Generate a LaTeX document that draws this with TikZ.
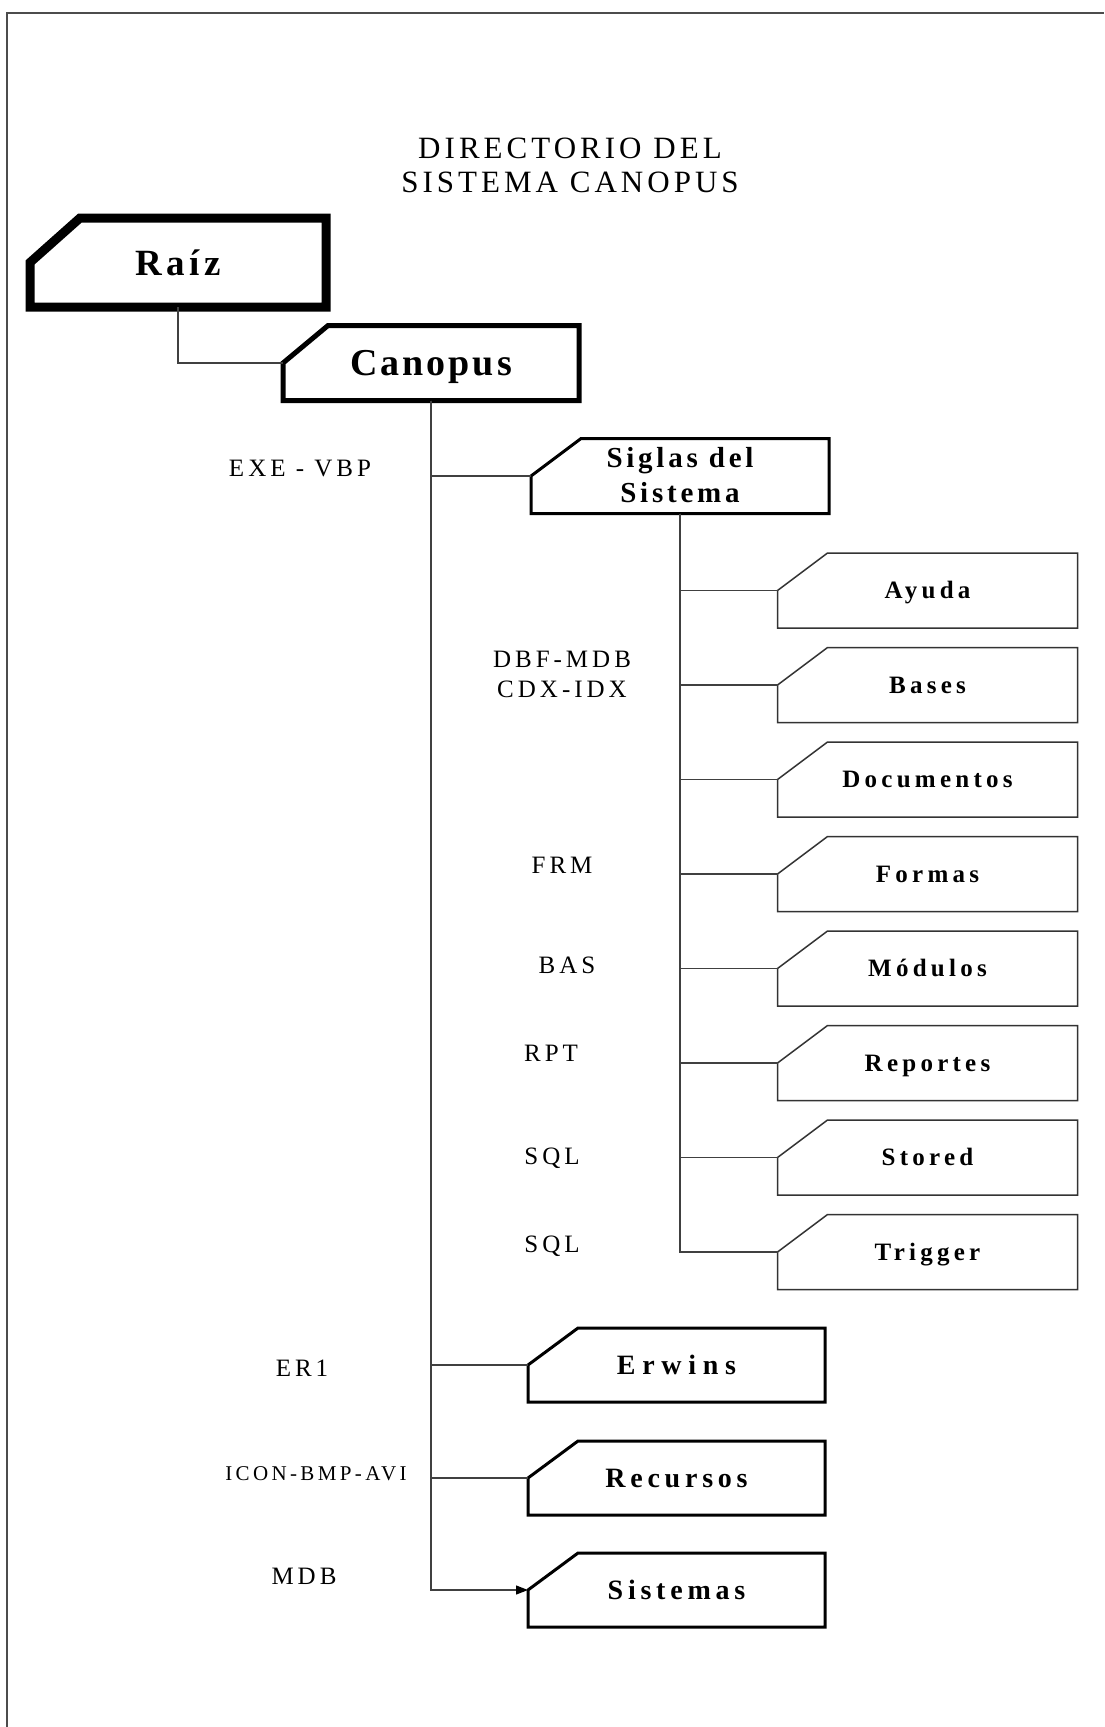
\documentclass[tikz,border=0pt]{standalone}
\usepackage{fontspec}
\setmainfont{Liberation Serif}
\newfontfamily\ftitle[LetterSpace=13]{Liberation Serif}
\newfontfamily\flbl[LetterSpace=16]{Liberation Serif}
\newfontfamily\fsub[LetterSpace=17]{Liberation Serif}
\newfontfamily\fsig[LetterSpace=13]{Liberation Serif}
\newfontfamily\fbig[LetterSpace=17]{Liberation Serif}
\newfontfamily\ferw[LetterSpace=24]{Liberation Serif}
\newfontfamily\fcan[LetterSpace=8]{Liberation Serif}
\newfontfamily\fraiz[LetterSpace=12]{Liberation Serif}
\usetikzlibrary{arrows.meta}
\newcommand\cutoutline[3]{\draw[#3] (#1.south west) -- (#1.west) -- ([xshift=#2]#1.north west) -- (#1.north east) -- (#1.south east) -- cycle;}
\begin{document}
\begin{tikzpicture}[x=1pt,y=-1pt,
  conn/.style={line width=1.2pt, draw=black!75},
  frameline/.style={line width=2pt, draw=black!70},
  cbox/.style={rectangle, inner sep=0pt, outer sep=0pt, text depth=0pt},
  subbox/.style={cbox, minimum width=300pt, minimum height=75pt, text height=16.5pt,
    font={\fsub\bfseries\fontsize{25}{29}\selectfont}},
  bigbox/.style={cbox, minimum width=297pt, minimum height=74pt, text height=19pt,
    font={\fbig\bfseries\fontsize{28}{32}\selectfont}},
  sigbox/.style={cbox, minimum width=298pt, minimum height=75pt},
  sigtxt/.style={inner sep=0pt, anchor=base, font={\fsig\bfseries\fontsize{29}{34}\selectfont}},
  canbox/.style={cbox, minimum width=296pt, minimum height=75pt, text height=25pt,
    font={\fcan\bfseries\fontsize{38}{42}\selectfont}},
  raizbox/.style={cbox, minimum width=296pt, minimum height=89pt, text height=25pt,
    font={\fraiz\bfseries\fontsize{37}{42}\selectfont}},
  subline/.style={line width=1.5pt, draw=black!80},
  bigline/.style={line width=3pt, draw=black},
  canline/.style={line width=5pt, draw=black},
  raizline/.style={line width=9pt, draw=black},
  lbl/.style={inner sep=0pt, anchor=base, font={\flbl\fontsize{25}{29}\selectfont}},
  ttl/.style={inner sep=0pt, anchor=base, font={\ftitle\fontsize{31}{35}\selectfont}}
]
\fill[white] (0,0) rectangle (1104,1727);
\useasboundingbox (0,0) rectangle (1104,1727);
\draw[frameline] (7,1727) -- (7,13) -- (1104,13);

% title
\node[ttl] (title1) at (570,158) {DIRECTORIO DEL};
\node[ttl] (title2) at (570,192) {SISTEMA CANOPUS};

% top boxes
\node[raizbox] (raiz) at (178,262.5) {Raíz};
\cutoutline{raiz}{50pt}{raizline}
\node[canbox] (canopus) at (431,363) {Canopus};
\cutoutline{canopus}{45pt}{canline}
\draw[conn] (raiz.south) |- (canopus.west);

% siglas
\node[sigbox] (siglas) at (680,476) {};
\cutoutline{siglas}{50pt}{bigline}
\node[sigtxt] (siglas1) at ([yshift=9pt]siglas.center) {Siglas del};
\node[sigtxt] (siglas2) at ([yshift=-26pt]siglas.center) {Sistema};
\draw[conn] (canopus.south) |- (siglas.west);

% sub boxes
\foreach \n/\y/\t in {ayuda/590.5/Ayuda, bases/685/Bases, docs/779.5/Documentos,
  formas/874/Formas, modulos/968.5/Módulos, reportes/1063/Reportes,
  stored/1157.5/Stored, trigger/1252/Trigger}{
  \node[subbox] (\n) at (927.5,\y) {\t};
  \cutoutline{\n}{50pt}{subline}
  \draw[conn] (siglas.south) |- (\n.west);
}

% bottom boxes
\node[bigbox, font={\ferw\bfseries\fontsize{28}{32}\selectfont}] (erwins) at (676.5,1365) {Erwins};
\cutoutline{erwins}{50pt}{bigline}
\node[bigbox] (recursos) at (676.5,1478) {Recursos};
\cutoutline{recursos}{50pt}{bigline}
\node[bigbox] (sistemas) at (676.5,1590) {Sistemas};
\cutoutline{sistemas}{50pt}{bigline}
\draw[conn] (canopus.south) |- (erwins.west);
\draw[conn] (canopus.south) |- (recursos.west);
\draw[conn, -{Triangle[length=12pt,width=9pt,color=black]}] (canopus.south) |- (sistemas.west);

% labels
\node[lbl] (lexe) at (300,476) {EXE - VBP};
\node[lbl] (ldbf) at (562,667) {DBF-MDB};
\node[lbl] (lcdx) at (562,697) {CDX-IDX};
\node[lbl] (lfrm) at (562,873) {FRM};
\node[lbl] (lbas) at (567,973) {BAS};
\node[lbl] (lrpt) at (551,1061) {RPT};
\node[lbl] (lsql1) at (552,1164) {SQL};
\node[lbl] (lsql2) at (552,1252) {SQL};
\node[lbl] (ler1) at (302,1376) {ER1};
\node[lbl, font={\flbl\fontsize{21}{25}\selectfont}] (licon) at (316,1480) {ICON-BMP-AVI};
\node[lbl] (lmdb) at (304,1584) {MDB};
\end{tikzpicture}
\end{document}
